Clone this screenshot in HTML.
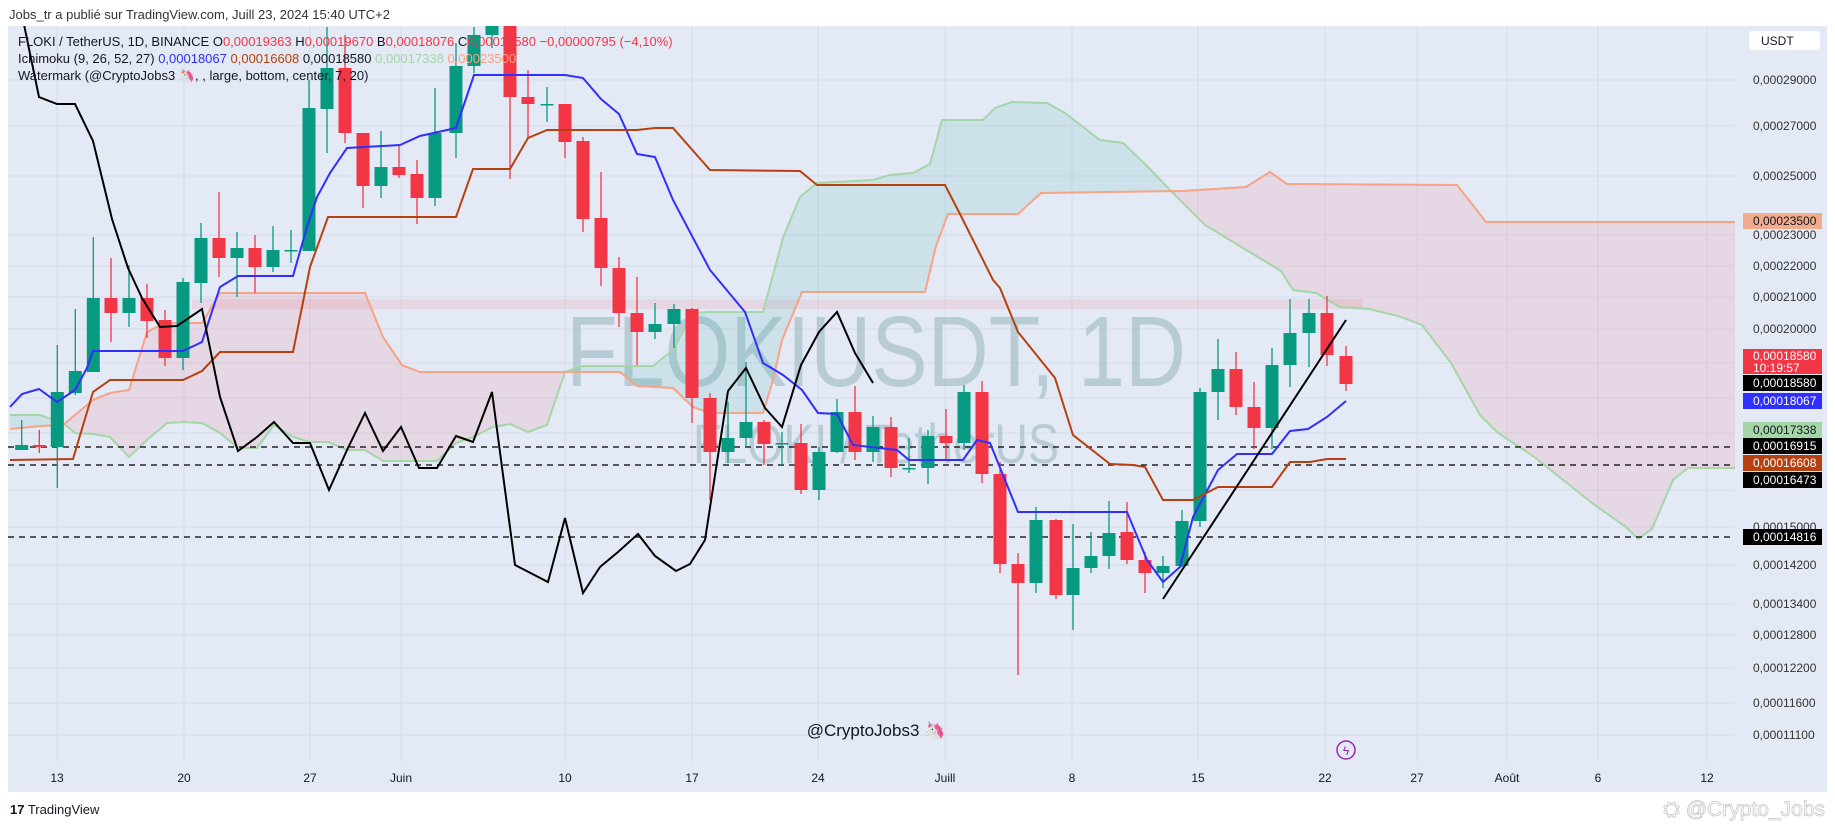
<!DOCTYPE html>
<html><head><meta charset="utf-8"><style>
html,body{margin:0;padding:0;background:#fff;width:1835px;height:827px;overflow:hidden}
svg{display:block;font-family:"Liberation Sans",sans-serif}
</style></head><body>
<svg width="1835" height="827" viewBox="0 0 1835 827" xmlns="http://www.w3.org/2000/svg">
<defs>
<clipPath id="pc"><rect x="8" y="26" width="1727" height="766"/></clipPath>
<clipPath id="gc"><rect x="0" y="0" width="65" height="827"/><rect x="565" y="0" width="600" height="827"/></clipPath>
<clipPath id="rc"><rect x="65" y="0" width="500" height="827"/><rect x="1165" y="0" width="600" height="827"/></clipPath>
</defs>
<text x="9" y="19" font-size="13" fill="#333">Jobs_tr a publié sur TradingView.com, Juill 23, 2024 15:40 UTC+2</text>
<rect x="8" y="26" width="1819" height="766" fill="#e4e9f6"/>
<g stroke="#d6dcea" stroke-width="1">
<line x1="57" y1="26" x2="57" y2="762"/><line x1="184" y1="26" x2="184" y2="762"/><line x1="310" y1="26" x2="310" y2="762"/><line x1="401" y1="26" x2="401" y2="762"/><line x1="565" y1="26" x2="565" y2="762"/><line x1="692" y1="26" x2="692" y2="762"/><line x1="818" y1="26" x2="818" y2="762"/><line x1="945" y1="26" x2="945" y2="762"/><line x1="1072" y1="26" x2="1072" y2="762"/><line x1="1198" y1="26" x2="1198" y2="762"/><line x1="1325" y1="26" x2="1325" y2="762"/><line x1="1417" y1="26" x2="1417" y2="762"/><line x1="1507" y1="26" x2="1507" y2="762"/><line x1="1598" y1="26" x2="1598" y2="762"/><line x1="1707" y1="26" x2="1707" y2="762"/>
<line x1="8" y1="80" x2="1735" y2="80"/><line x1="8" y1="126" x2="1735" y2="126"/><line x1="8" y1="176" x2="1735" y2="176"/><line x1="8" y1="235" x2="1735" y2="235"/><line x1="8" y1="266" x2="1735" y2="266"/><line x1="8" y1="297" x2="1735" y2="297"/><line x1="8" y1="329" x2="1735" y2="329"/><line x1="8" y1="363" x2="1735" y2="363"/><line x1="8" y1="398" x2="1735" y2="398"/><line x1="8" y1="433" x2="1735" y2="433"/><line x1="8" y1="490" x2="1735" y2="490"/><line x1="8" y1="527" x2="1735" y2="527"/><line x1="8" y1="565" x2="1735" y2="565"/><line x1="8" y1="604" x2="1735" y2="604"/><line x1="8" y1="635" x2="1735" y2="635"/><line x1="8" y1="668" x2="1735" y2="668"/><line x1="8" y1="703" x2="1735" y2="703"/><line x1="8" y1="735" x2="1735" y2="735"/>
</g>
<g clip-path="url(#pc)">
<text x="566" y="386" font-size="100" fill="#aac3cc" opacity="0.75" textLength="620" lengthAdjust="spacingAndGlyphs">FLOKIUSDT, 1D</text>
<text x="693" y="463" font-size="56" fill="#aac3cc" opacity="0.75" textLength="366" lengthAdjust="spacingAndGlyphs">FLOKI / TetherUS</text>
<rect x="192" y="299" width="1171" height="10" fill="#f23645" opacity="0.1"/>
<g id="cloud">
<polygon clip-path="url(#gc)" fill="#089981" fill-opacity="0.1" points="10,415 40,415 63,423 75,433 93,434 110,437 129,457 147,440 167,423 183,422 202,423 220,433 238,448 257,448 274,425 293,437 310,442 328,442 347,450 365,450 383,461 437,461 456,443 473,437 493,427 510,424 528,432 547,425 565,372 582,366 653,366 673,350 693,313 710,312 763,312 783,238 800,197 817,183 873,180 890,175 913,173 930,164 942,120 983,120 995,108 1012,102 1047,103 1065,113 1100,140 1123,143 1147,166 1170,190 1205,225 1243,248 1281,271 1293,290 1316,293 1340,307 1369,309 1398,316 1422,325 1451,363 1480,415 1498,433 1533,456 1592,503 1626,527 1638,539 1652,529 1673,480 1688,468 1735,468 1735,222 1486,222 1457,185 1287,184 1270,172 1246,187 1182,191 1041,193 1018,214 948,214 936,246 925,292 802,292 782,340 773,380 763,413 710,413 693,407 673,388 637,386 620,372 420,372 402,365 383,337 365,293 220,293 202,323 165,323 147,332 129,390 110,393 93,400 63,425 40,426 10,429"/>
<polygon clip-path="url(#rc)" fill="#f23645" fill-opacity="0.1" points="10,415 40,415 63,423 75,433 93,434 110,437 129,457 147,440 167,423 183,422 202,423 220,433 238,448 257,448 274,425 293,437 310,442 328,442 347,450 365,450 383,461 437,461 456,443 473,437 493,427 510,424 528,432 547,425 565,372 582,366 653,366 673,350 693,313 710,312 763,312 783,238 800,197 817,183 873,180 890,175 913,173 930,164 942,120 983,120 995,108 1012,102 1047,103 1065,113 1100,140 1123,143 1147,166 1170,190 1205,225 1243,248 1281,271 1293,290 1316,293 1340,307 1369,309 1398,316 1422,325 1451,363 1480,415 1498,433 1533,456 1592,503 1626,527 1638,539 1652,529 1673,480 1688,468 1735,468 1735,222 1486,222 1457,185 1287,184 1270,172 1246,187 1182,191 1041,193 1018,214 948,214 936,246 925,292 802,292 782,340 773,380 763,413 710,413 693,407 673,388 637,386 620,372 420,372 402,365 383,337 365,293 220,293 202,323 165,323 147,332 129,390 110,393 93,400 63,425 40,426 10,429"/>
</g>
<polyline fill="none" stroke="#a5d6a7" stroke-width="2" points="10,415 40,415 63,423 75,433 93,434 110,437 129,457 147,440 167,423 183,422 202,423 220,433 238,448 257,448 274,425 293,437 310,442 328,442 347,450 365,450 383,461 437,461 456,443 473,437 493,427 510,424 528,432 547,425 565,372 582,366 653,366 673,350 693,313 710,312 763,312 783,238 800,197 817,183 873,180 890,175 913,173 930,164 942,120 983,120 995,108 1012,102 1047,103 1065,113 1100,140 1123,143 1147,166 1170,190 1205,225 1243,248 1281,271 1293,290 1316,293 1340,307 1369,309 1398,316 1422,325 1451,363 1480,415 1498,433 1533,456 1592,503 1626,527 1638,539 1652,529 1673,480 1688,468 1735,468"/>
<polyline fill="none" stroke="#f7a385" stroke-width="2" points="10,429 40,426 63,425 93,400 110,393 129,390 147,332 165,323 202,323 220,293 365,293 383,337 402,365 420,372 620,372 637,386 673,388 693,407 710,413 763,413 773,380 782,340 802,292 925,292 936,246 948,214 1018,214 1041,193 1182,191 1246,187 1270,172 1287,184 1457,185 1486,222 1735,222"/>
<g stroke="#000" stroke-width="1.2" stroke-dasharray="6,5">
<line x1="8" y1="447" x2="1735" y2="447"/><line x1="8" y1="465" x2="1735" y2="465"/><line x1="8" y1="537" x2="1735" y2="537"/>
</g>
<g id="candles"></g>
<polyline fill="none" stroke="#2f2fff" stroke-width="2" points="10,407 22,394 39,389 57,402 75,390 87,368 93,351 183,351 202,342 220,287 238,276 293,276 307,227 317,197 330,173 347,148 400,145 420,136 456,128 474,75 565,75 583,78 601,99 619,114 637,154 655,157 673,200 710,270 745,312 763,363 783,375 802,390 818,413 837,414 853,445 897,450 909,460 963,460 977,440 990,443 1018,512 1127,512 1147,560 1163,582 1180,567 1193,517 1218,470 1237,454 1272,454 1290,431 1308,429 1327,417 1346,401"/>
<polyline fill="none" stroke="#b7410e" stroke-width="2" points="10,460 73,459 93,392 110,380 183,380 202,371 220,352 293,352 310,267 328,217 456,217 473,169 510,169 528,138 547,130 637,130 655,128 673,128 710,170 800,171 817,185 945,185 960,214 993,280 1000,288 1018,332 1055,378 1073,435 1110,464 1133,465 1145,467 1163,500 1193,500 1218,487 1272,487 1290,462 1310,462 1327,459 1346,459"/>
<polyline fill="none" stroke="#000" stroke-width="2" points="21,10 39,97 57,104 75,104 93,141 112,219 128,268 142,298 160,327 177,326 202,309 220,397 238,451 257,437 274,422 293,443 310,443 329,490 347,450 365,413 383,451 401,427 419,468 437,468 456,436 473,442 492,392 515,565 548,582 565,518 583,593 600,567 618,552 638,534 655,556 676,571 690,564 705,540 728,391 746,368 765,408 782,427 801,365 819,332 837,312 855,353 873,383"/>
<line x1="1163" y1="599" x2="1346" y2="320" stroke="#000" stroke-width="2"/>
</g>
<g font-size="13">
<text x="18" y="46" fill="#131722">FLOKI / TetherUS, 1D, BINANCE  O<tspan fill="#f23645">0,00019363</tspan>  H<tspan fill="#f23645">0,00019670</tspan>  B<tspan fill="#f23645">0,00018076</tspan>  C<tspan fill="#f23645">0,00018580  −0,00000795 (−4,10%)</tspan></text>
<text x="18" y="63" fill="#131722">Ichimoku (9, 26, 52, 27)  <tspan fill="#2f2fff">0,00018067</tspan>  <tspan fill="#b7410e">0,00016608</tspan>  <tspan fill="#131722">0,00018580</tspan>  <tspan fill="#a5d6a7">0,00017338</tspan>  <tspan fill="#f7a385">0,00023500</tspan></text>
<text x="18" y="80" fill="#131722">Watermark (@CryptoJobs3 🦄, , large, bottom, center, 7, 20)</text>
</g>
<rect x="1749" y="31" width="71" height="19" rx="3" fill="#fff"/>
<text x="1761" y="45" font-size="12" fill="#131722">USDT</text>
<g font-size="12" fill="#333" font-family="Liberation Sans,sans-serif">
<text x="1753" y="84">0,00029000</text><text x="1753" y="130">0,00027000</text><text x="1753" y="180">0,00025000</text><text x="1753" y="239">0,00023000</text><text x="1753" y="270">0,00022000</text><text x="1753" y="301">0,00021000</text><text x="1753" y="333">0,00020000</text><text x="1753" y="531">0,00015000</text><text x="1753" y="569">0,00014200</text><text x="1753" y="608">0,00013400</text><text x="1753" y="639">0,00012800</text><text x="1753" y="672">0,00012200</text><text x="1753" y="707">0,00011600</text><text x="1753" y="739">0,00011100</text>
</g>
<g font-size="12">
<rect x="1743" y="213" width="79" height="16" fill="#f2ab8c"/><text x="1753" y="225" fill="#131722">0,00023500</text>
<rect x="1743" y="349" width="79" height="25" fill="#f23645"/><text x="1753" y="360" fill="#fff">0,00018580</text><text x="1753" y="372" fill="#fff">10:19:57</text>
<rect x="1743" y="375" width="79" height="16" fill="#000"/><text x="1753" y="387" fill="#fff">0,00018580</text>
<rect x="1743" y="393" width="79" height="16" fill="#2f2fff"/><text x="1753" y="405" fill="#fff">0,00018067</text>
<rect x="1743" y="422" width="79" height="16" fill="#a5d6a7"/><text x="1753" y="434" fill="#131722">0,00017338</text>
<rect x="1743" y="438" width="79" height="16" fill="#000"/><text x="1753" y="450" fill="#fff">0,00016915</text>
<rect x="1743" y="455" width="79" height="16" fill="#b7410e"/><text x="1753" y="467" fill="#fff">0,00016608</text>
<rect x="1743" y="472" width="79" height="16" fill="#000"/><text x="1753" y="484" fill="#fff">0,00016473</text>
<rect x="1743" y="529" width="79" height="16" fill="#000"/><text x="1753" y="541" fill="#fff">0,00014816</text>
</g>
<text x="876" y="736" font-size="17" fill="#131722" text-anchor="middle">@CryptoJobs3 🦄</text>
<circle cx="1346" cy="750" r="9" fill="none" stroke="#9c27b0" stroke-width="1.5"/>
<text x="1346" y="755" font-size="12" fill="#9c27b0" text-anchor="middle">ϟ</text>
<g font-size="12" fill="#131722" text-anchor="middle">
<text x="57" y="782">13</text><text x="184" y="782">20</text><text x="310" y="782">27</text><text x="401" y="782">Juin</text><text x="565" y="782">10</text><text x="692" y="782">17</text><text x="818" y="782">24</text><text x="945" y="782">Juill</text><text x="1072" y="782">8</text><text x="1198" y="782">15</text><text x="1325" y="782">22</text><text x="1417" y="782">27</text><text x="1507" y="782">Août</text><text x="1598" y="782">6</text><text x="1707" y="782">12</text>
</g>
<text x="10" y="814" font-size="13" fill="#131722"><tspan font-weight="bold">17</tspan> TradingView</text>
<text x="1825" y="816" font-size="21" fill="#fff" stroke="#c8c8c8" stroke-width="0.8" text-anchor="end">⛭ @Crypto_Jobs</text>
</svg>
<script>
var d=[["G",21.7,445,450,420,450],["R",39.3,445,447,430,453],["G",57.3,392,447,345,488],["G",75.3,371,393,309,395],["G",93.3,298,372,237,372],["R",111,298,313,258,342],["G",129,298,313,265,327],["R",147,298,321,284,338],["R",165,320,358,310,366],["G",183,282,358,278,370],["G",201,238,283,223,303],["R",219,238,258,192,277],["G",237,248,258,232,297],["R",255,248,267,235,293],["G",273,250,267,226,272],["G",291,250,251,230,263],["G",309,108,251,80,251],["G",327,68,109,27,153],["R",345,68,133,35,143],["R",363,133,186,133,208],["G",381,167,186,131,198],["R",399,167,175,145,178],["R",417,174,198,160,224],["G",435,133,198,88,206],["G",456,66,133,43,158],["G",474,35,66,27,73],["G",492,20,35,15,48],["R",510,20,97,15,179],["R",528,97,104,70,138],["G",547,104,105,87,122],["R",565,104,142,104,158],["R",583,141,219,137,232],["R",601,218,268,172,286],["R",619,268,313,257,327],["R",637,313,332,277,365],["G",655,324,332,303,339],["G",674,309,324,304,348],["R",692,309,398,308,423],["R",710,398,452,393,500],["G",728,438,452,402,463],["G",746,422,438,362,447],["R",764,422,444,420,465],["G",782,443,444,432,465],["R",801,443,490,424,494],["G",819,452,490,447,500],["G",837,412,452,399,453],["R",855,412,452,386,460],["G",873,427,452,416,462],["R",891,427,468,417,477],["G",909,468,469,438,473],["G",928,436,468,430,484],["R",946,436,443,409,460],["G",964,392,443,385,450],["R",982,392,474,381,483],["R",1000,474,564,462,573],["R",1018,564,583,553,675],["G",1036,520,583,507,593],["R",1056,520,595,519,599],["G",1073,568,595,524,630],["G",1091,556,568,532,573],["G",1109,533,556,501,569],["R",1127,532,560,502,564],["R",1145,560,573,552,593],["G",1163,566,573,556,588],["G",1182,521,566,510,567],["G",1200,392,521,388,527],["G",1218,369,392,339,420],["R",1236,369,407,352,415],["R",1254,407,428,382,449],["G",1272,365,428,348,449],["G",1290,333,365,299,387],["G",1309,313,333,299,367],["R",1327,313,355,296,366],["R",1346,356,384,346,391]];
var s="";
d.forEach(function(c){var col=c[0]=="G"?"#089981":"#f23645";var h=Math.max(1.5,c[3]-c[2]);
s+='<line x1="'+c[1]+'" y1="'+c[4]+'" x2="'+c[1]+'" y2="'+c[5]+'" stroke="'+col+'" stroke-width="1.3"/>';
s+='<rect x="'+(c[1]-6.5)+'" y="'+c[2]+'" width="13" height="'+h+'" fill="'+col+'"/>';});
document.getElementById("candles").innerHTML=s;
</script>
</body></html>
